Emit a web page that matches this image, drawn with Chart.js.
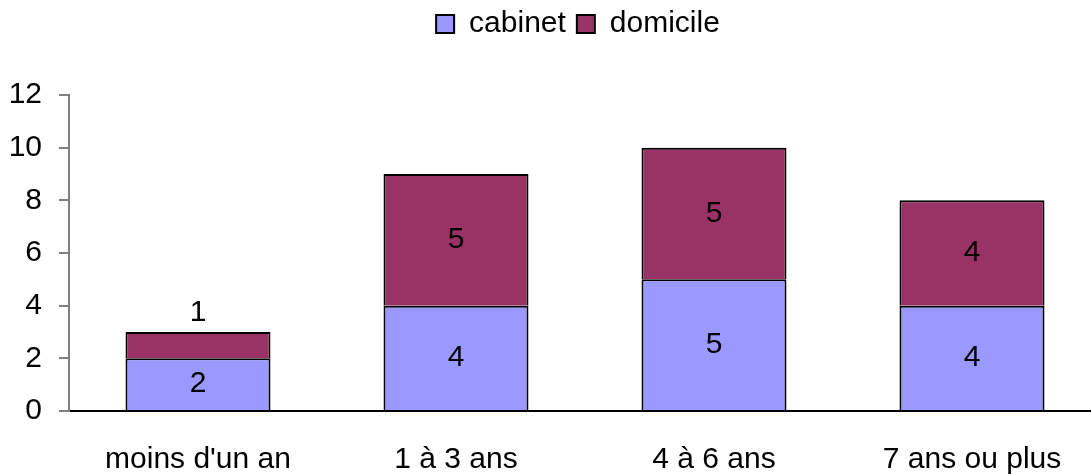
<!DOCTYPE html>
<html>
<head>
<meta charset="utf-8">
<script src="https://cdn.jsdelivr.net/npm/chart.js@4/dist/chart.umd.min.js"></script>
<style>
  html, body { margin: 0; padding: 0; background: #fff; overflow: hidden; }
  #wrap { width: 1091px; height: 474px; overflow: hidden; }
</style>
</head>
<body>
<div id="wrap"><canvas id="chart" width="1101" height="474"></canvas></div>
<script>
// Données
const categories = ["moins d'un an", '1 à 3 ans', '4 à 6 ans', '7 ans ou plus'];
const cabinet    = [2, 4, 5, 4];
const domicile   = [1, 5, 5, 4];
const yTicks     = [0, 2, 4, 6, 8, 10, 12];

const FONT = 'Liberation Sans, Arial, sans-serif';
const SIZE = 30;

// Hauteur fixe de la légende pour caler la zone du graphique
const legendHeight = {
  id: 'legendHeight',
  beforeLayout(chart) {
    const lg = chart.legend;
    if (lg && !lg._fitPatched) {
      const fit = lg.fit;
      lg.fit = function () { fit.call(this); this.height = 95; };
      lg._fitPatched = true;
    }
  },
  afterLayout(chart) {
    const lg = chart.legend;
    if (lg) { lg.left -= 7; lg.right -= 7; lg.top -= 2; }
  }
};

// Étiquettes de valeur au centre des segments (ou au-dessus s'ils sont trop petits)
const valueLabels = {
  id: 'valueLabels',
  afterDatasetsDraw(chart) {
    const ctx = chart.ctx;
    ctx.save();
    ctx.font = SIZE + 'px ' + FONT;
    ctx.fillStyle = '#000';
    ctx.textAlign = 'center';
    ctx.textBaseline = 'middle';
    chart.data.datasets.forEach((ds, i) => {
      chart.getDatasetMeta(i).data.forEach((bar, j) => {
        const h = Math.abs(bar.base - bar.y);
        const y = h < 35 ? bar.y - 19 : (bar.y + bar.base) / 2;
        ctx.fillText(String(ds.data[j]), bar.x, y);
      });
    });
    ctx.restore();
  }
};

new Chart(document.getElementById('chart'), {
  type: 'bar',
  data: {
    labels: categories,
    datasets: [
      { label: 'cabinet', data: cabinet, backgroundColor: '#9999FF', borderColor: '#000', borderWidth: 2, borderSkipped: 'start' },
      { label: 'domicile', data: domicile, backgroundColor: '#993366', borderColor: '#000', borderWidth: 2, borderSkipped: 'start' }
    ]
  },
  options: {
    responsive: false,
    animation: false,
    categoryPercentage: 1,
    barPercentage: 0.562,
    layout: { padding: 0 },
    plugins: {
      tooltip: { enabled: false },
      legend: {
        position: 'top',
        fullSize: false,
        labels: {
          color: '#000',
          font: { family: FONT, size: SIZE },
          boxWidth: 18,
          boxHeight: 18,
          padding: 11
        }
      }
    },
    scales: {
      x: {
        stacked: true,
        grid: { display: false },
        border: { display: true, color: '#000', width: 2 },
        ticks: { color: '#000', font: { family: FONT, size: SIZE }, padding: 23, maxRotation: 0 },
        afterFit(scale) { scale.height = 63; }
      },
      y: {
        stacked: true,
        min: 0,
        max: 12,
        grid: { drawOnChartArea: false, drawTicks: true, tickLength: 10, color: '#808080', lineWidth: 2 },
        border: { display: true, color: '#808080', width: 2 },
        afterBuildTicks(scale) { scale.ticks = yTicks.map(v => ({ value: v })); },
        ticks: { color: '#000', font: { family: FONT, size: SIZE }, padding: 17 },
        afterFit(scale) { scale.width = 69; }
      }
    }
  },
  plugins: [legendHeight, valueLabels]
});
</script>
</body>
</html>
